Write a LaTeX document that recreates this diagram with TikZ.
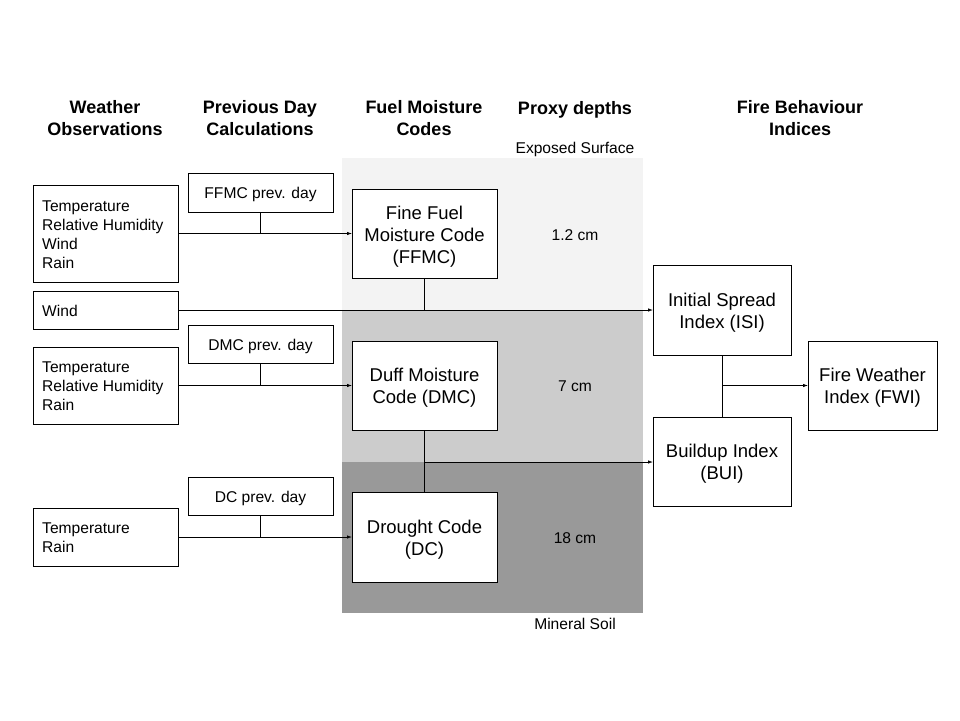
\documentclass[tikz,border=0pt]{standalone}
\usepackage{fontspec}
\setmainfont{Liberation Sans}
\usetikzlibrary{arrows.meta}
\begin{document}
\begin{tikzpicture}[x=1pt,y=-1pt,
  box/.style={draw=black,line width=1pt,fill=white,inner sep=0pt,outer sep=0pt},
  hdr/.style={font=\fontsize{18}{22}\selectfont\bfseries,align=center},
  big/.style={font=\fontsize{18.5}{22}\selectfont,align=center},
  small/.style={font=\fontsize{15.6}{19}\selectfont},
  conn/.style={line width=0.8pt},
  arr/.style={line width=0.8pt,-{Latex[length=5pt,width=3.5pt]}}]
\useasboundingbox (0,0) rectangle (960,720);
\fill[white] (0,0) rectangle (960,720);
% bands
\fill[fill={rgb,255:red,243;green,243;blue,243}] (342,158) rectangle (643,311);
\fill[fill={rgb,255:red,204;green,204;blue,204}] (342,311) rectangle (643,462);
\fill[fill={rgb,255:red,153;green,153;blue,153}] (342,462) rectangle (643,613);
% headers
\node[hdr] (h1) at (105,118) {Weather\\Observations};
\node[hdr] (h2) at (260,118) {Previous Day\\Calculations};
\node[hdr] (h3) at (424,118) {Fuel Moisture\\Codes};
\node[hdr] (h4) at (575,110) {Proxy depths};
\node[hdr] (h5) at (800,118) {Fire Behaviour\\Indices};
\node[small] (es) at (575,149) {Exposed Surface};
\node[small] (ms) at (575,624) {Mineral Soil};
\node[small] (d1) at (575,235) {1.2 cm};
\node[small] (d2) at (575,386) {7 cm};
\node[small] (d3) at (575,538) {18 cm};
% weather boxes
\node[box,minimum width=145pt,minimum height=97pt] (w1) at (105.5,233.5) {};
\node[small,align=left,anchor=west,inner sep=0pt] (w1t) at (42,234.5) {Temperature\\Relative Humidity\\Wind\\Rain};
\node[box,minimum width=145pt,minimum height=38pt] (wind) at (105.5,310) {};
\node[small,anchor=west,inner sep=0pt] (windt) at (42,311) {Wind};
\node[box,minimum width=145pt,minimum height=77pt] (w2) at (105.5,385.5) {};
\node[small,align=left,anchor=west,inner sep=0pt] (w2t) at (42,386.5) {Temperature\\Relative Humidity\\Rain};
\node[box,minimum width=145pt,minimum height=58pt] (w3) at (105.5,537) {};
\node[small,align=left,anchor=west,inner sep=0pt] (w3t) at (42,538) {Temperature\\Rain};
% previous day
\node[box,minimum width=145pt,minimum height=39pt,label={[small,yshift=-2pt]center:FFMC prev. day}] (p1) at (260.5,192.5) {};
\node[box,minimum width=145pt,minimum height=38pt,label={[small,yshift=-2pt]center:DMC prev. day}] (p2) at (260.5,344) {};
\node[box,minimum width=145pt,minimum height=38pt,label={[small,yshift=-2pt]center:DC prev. day}] (p3) at (260.5,496) {};
% codes
\node[box,minimum width=145pt,minimum height=89pt,label={[big,yshift=-3pt]center:Fine Fuel\\Moisture Code\\(FFMC)}] (ffmc) at (424.5,233.5) {};
\node[box,minimum width=145pt,minimum height=89pt,label={[big,yshift=-2.5pt]center:Duff Moisture\\Code (DMC)}] (dmc) at (424.5,385.5) {};
\node[box,minimum width=145pt,minimum height=90pt,label={[big,yshift=-2.5pt]center:Drought Code\\(DC)}] (dc) at (424.5,537) {};
% indices
\node[box,minimum width=138pt,minimum height=90pt,label={[big,yshift=-2.5pt]center:Initial Spread\\Index (ISI)}] (isi) at (722,310) {};
\node[box,minimum width=138pt,minimum height=89pt,label={[big,yshift=-2.5pt]center:Buildup Index\\(BUI)}] (bui) at (722,461.5) {};
\node[box,minimum width=129pt,minimum height=89pt,label={[big,yshift=-2.5pt]center:Fire Weather\\Index (FWI)}] (fwi) at (872.5,385.5) {};
% junction coordinates
\coordinate (j1) at (p1.south |- w1.east);
\coordinate (j2) at (p2.south |- w2.east);
\coordinate (j3) at (p3.south |- w3.east);
\coordinate (j4) at (ffmc.south |- wind.east);
\coordinate (j5) at (dmc.south |- 0,462);
\coordinate (j6) at (isi.south |- fwi.west);
% connectors
\draw[arr] (w1.east) -- (ffmc.west);
\draw[conn] (p1.south) -- (j1);
\draw[arr] (w2.east) -- (dmc.west);
\draw[conn] (p2.south) -- (j2);
\draw[arr] (w3.east) -- (dc.west);
\draw[conn] (p3.south) -- (j3);
\draw[arr] (wind.east) -- (isi.west |- wind.east);
\draw[conn] (ffmc.south) -- (j4);
\draw[conn] (dmc.south) -- (dc.north);
\draw[arr] (j5) -- (bui.west |- j5);
\draw[conn] (isi.south) -- (bui.north);
\draw[arr] (j6) -- (fwi.west);
\end{tikzpicture}
\end{document}
